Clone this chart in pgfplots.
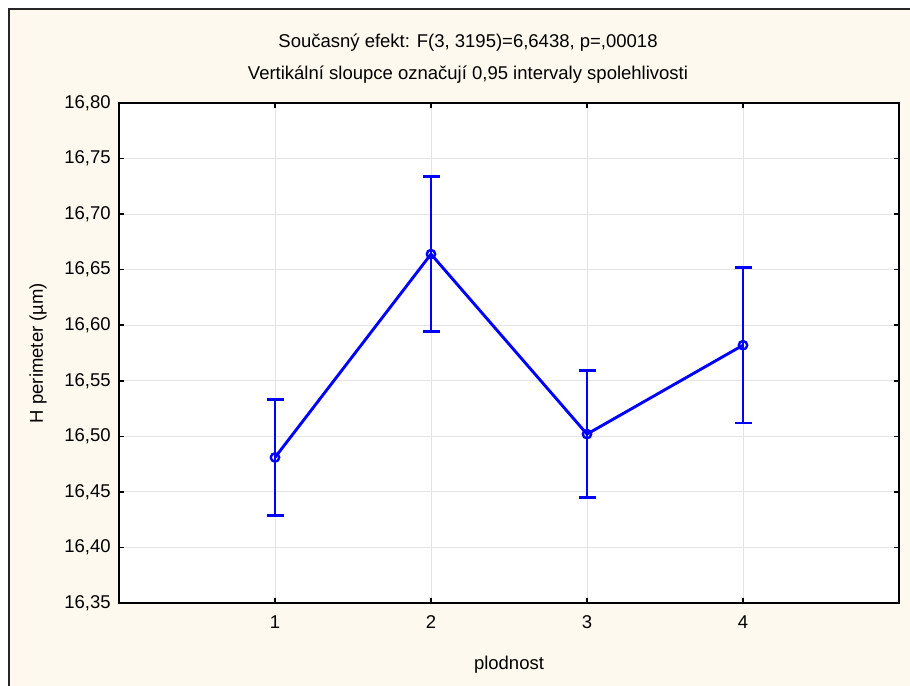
\documentclass[border=0pt]{standalone}
\usepackage{fontspec}
\setmainfont{Liberation Sans}
\usepackage{pgfplots}
\pgfplotsset{compat=1.18}
\definecolor{panelbg}{RGB}{253,249,239}
\definecolor{gridgray}{RGB}{228,228,228}
\definecolor{serieblue}{RGB}{0,0,255}

\begin{document}
\fontsize{18.5bp}{22bp}\selectfont
\begin{tikzpicture}
  \useasboundingbox (0bp,0bp) rectangle (910bp,686bp);
  % page background and the outer frame
  \begin{scope}
    \clip (0bp,0bp) rectangle (910bp,686bp);
    \fill[white] (0bp,0bp) rectangle (910bp,686bp);
    \fill[panelbg] (9bp,-10bp) rectangle (930bp,677bp);
    \draw[black!85, line width=2.5bp] (9bp,-10bp) -- (9bp,677bp) -- (930bp,677bp);
  \end{scope}

  % titles
  \node[anchor=base] at (468bp,638bp) {Současný efekt: F(3, 3195)=6,6438, p=,00018};
  \node[anchor=base] at (468bp,606bp) {Vertikální sloupce označují 0,95 intervaly spolehlivosti};

  \begin{axis}[
    at={(119bp,83bp)}, anchor=south west,
    width=780bp, height=500bp, scale only axis,
    xmin=0, xmax=5,
    ymin=16.35, ymax=16.80,
    xtick={1,2,3,4},
    ytick={16.35,16.40,16.45,16.50,16.55,16.60,16.65,16.70,16.75,16.80},
    /pgf/number format/assume math mode=true,
    yticklabel style={xshift=-2bp, /pgf/number format/.cd, use comma, fixed, fixed zerofill, precision=2},
    xticklabel style={yshift=-6bp, /pgf/number format/.cd, fixed, precision=0},
    tick align=inside,
    major tick length=5bp,
    tick style={black, line width=1.5bp},
    axis line style={black, line width=2.5bp},
    axis background/.style={fill=white},
    grid=major,
    major grid style={draw=gridgray, line width=0.8bp},
    clip=false,
  ]
    \addplot[
      serieblue, line width=2.9bp,
      mark=o, mark size=4.2bp,
      mark options={line width=2.4bp, fill=white, draw=serieblue},
      error bars/.cd,
        y dir=both, y explicit,
        error bar style={line width=2.9bp, serieblue},
        error mark options={rotate=90, mark size=8.5bp, line width=2.9bp, serieblue},
    ] coordinates {
      (1,16.481) +- (0,0.052)
      (2,16.664) +- (0,0.070)
      (3,16.502) +- (0,0.057)
      (4,16.582) +- (0,0.070)
    };
  \end{axis}

  % axis titles
  \node[rotate=90] at (38bp,333bp) {H perimeter (µm)};
  \node at (509bp,21bp) {plodnost};
\end{tikzpicture}
\end{document}
